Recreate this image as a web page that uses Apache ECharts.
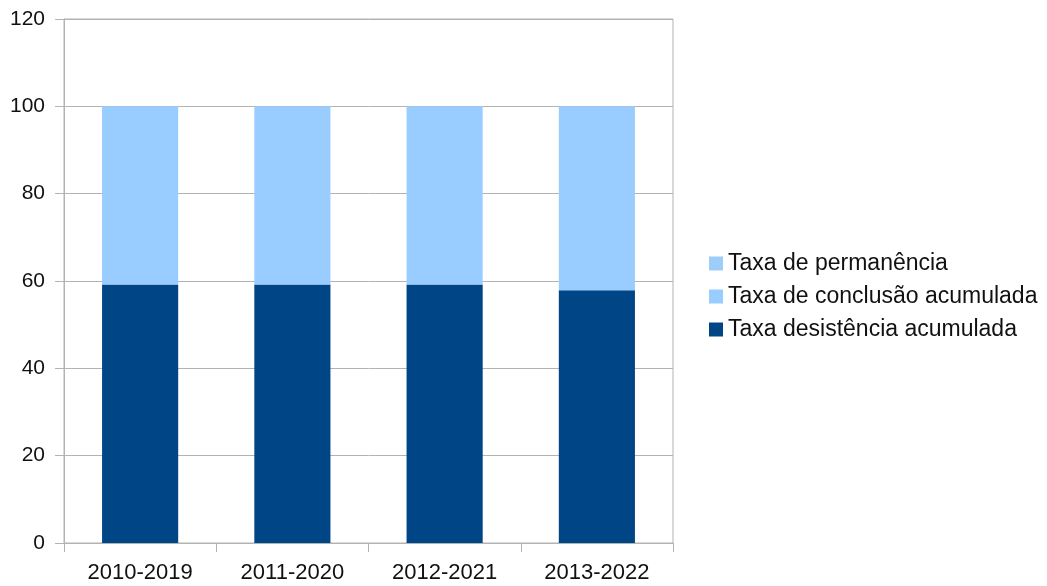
<!DOCTYPE html>
<html><head><meta charset="utf-8">
<script src="https://cdn.jsdelivr.net/npm/echarts@6/dist/echarts.min.js"></script>
<style>html,body{margin:0;padding:0;background:#fff}#c{width:1047px;height:586px}</style>
</head><body><div id="c"></div>
<script>
const categories = ['2010-2019','2011-2020','2012-2021','2013-2022'];
const desistencia = [59.2, 59.2, 59.2, 57.9];
const conclusao = [40.8, 40.8, 40.8, 42.1];
const permanencia = [0, 0, 0, 0];
const yTicks = [0, 20, 40, 60, 80, 100, 120];

const chart = echarts.init(document.getElementById('c'));
const font = 'Liberation Sans, Arial, sans-serif';
chart.setOption({
  animation: false,
  grid: {left: 64, right: 374, top: 19, bottom: 43, show: true, borderColor: '#b3b3b3', borderWidth: 1},
  legend: {
    orient: 'vertical', left: 704, top: 247, itemWidth: 14, itemHeight: 14, itemGap: 10,
    icon: 'rect',
    textStyle: {fontSize: 23, fontFamily: font, color: '#111'},
    data: ['Taxa de permanência','Taxa de conclusão acumulada','Taxa desistência acumulada']
  },
  xAxis: {
    type: 'category', data: categories,
    axisLine: {lineStyle: {color: '#b3b3b3'}},
    axisTick: {show: true, length: 9, lineStyle: {color: '#b3b3b3'}},
    axisLabel: {fontSize: 22, fontFamily: font, color: '#111', margin: 19}
  },
  yAxis: {
    type: 'value', min: yTicks[0], max: yTicks[yTicks.length-1], interval: 20,
    axisLine: {show: true, lineStyle: {color: '#b3b3b3'}},
    axisTick: {show: true, length: 9, lineStyle: {color: '#b3b3b3'}},
    splitLine: {lineStyle: {color: '#b3b3b3'}},
    axisLabel: {fontSize: 21, fontFamily: font, color: '#111', margin: 19}
  },
  series: [
    {name: 'Taxa desistência acumulada', type: 'bar', stack: 's', data: desistencia, barWidth: '50%', itemStyle: {color: '#004586'}},
    {name: 'Taxa de conclusão acumulada', type: 'bar', stack: 's', data: conclusao, itemStyle: {color: '#99ccff'}},
    {name: 'Taxa de permanência', type: 'bar', stack: 's', data: permanencia, itemStyle: {color: '#9fcdf9'}}
  ]
});
</script></body></html>
